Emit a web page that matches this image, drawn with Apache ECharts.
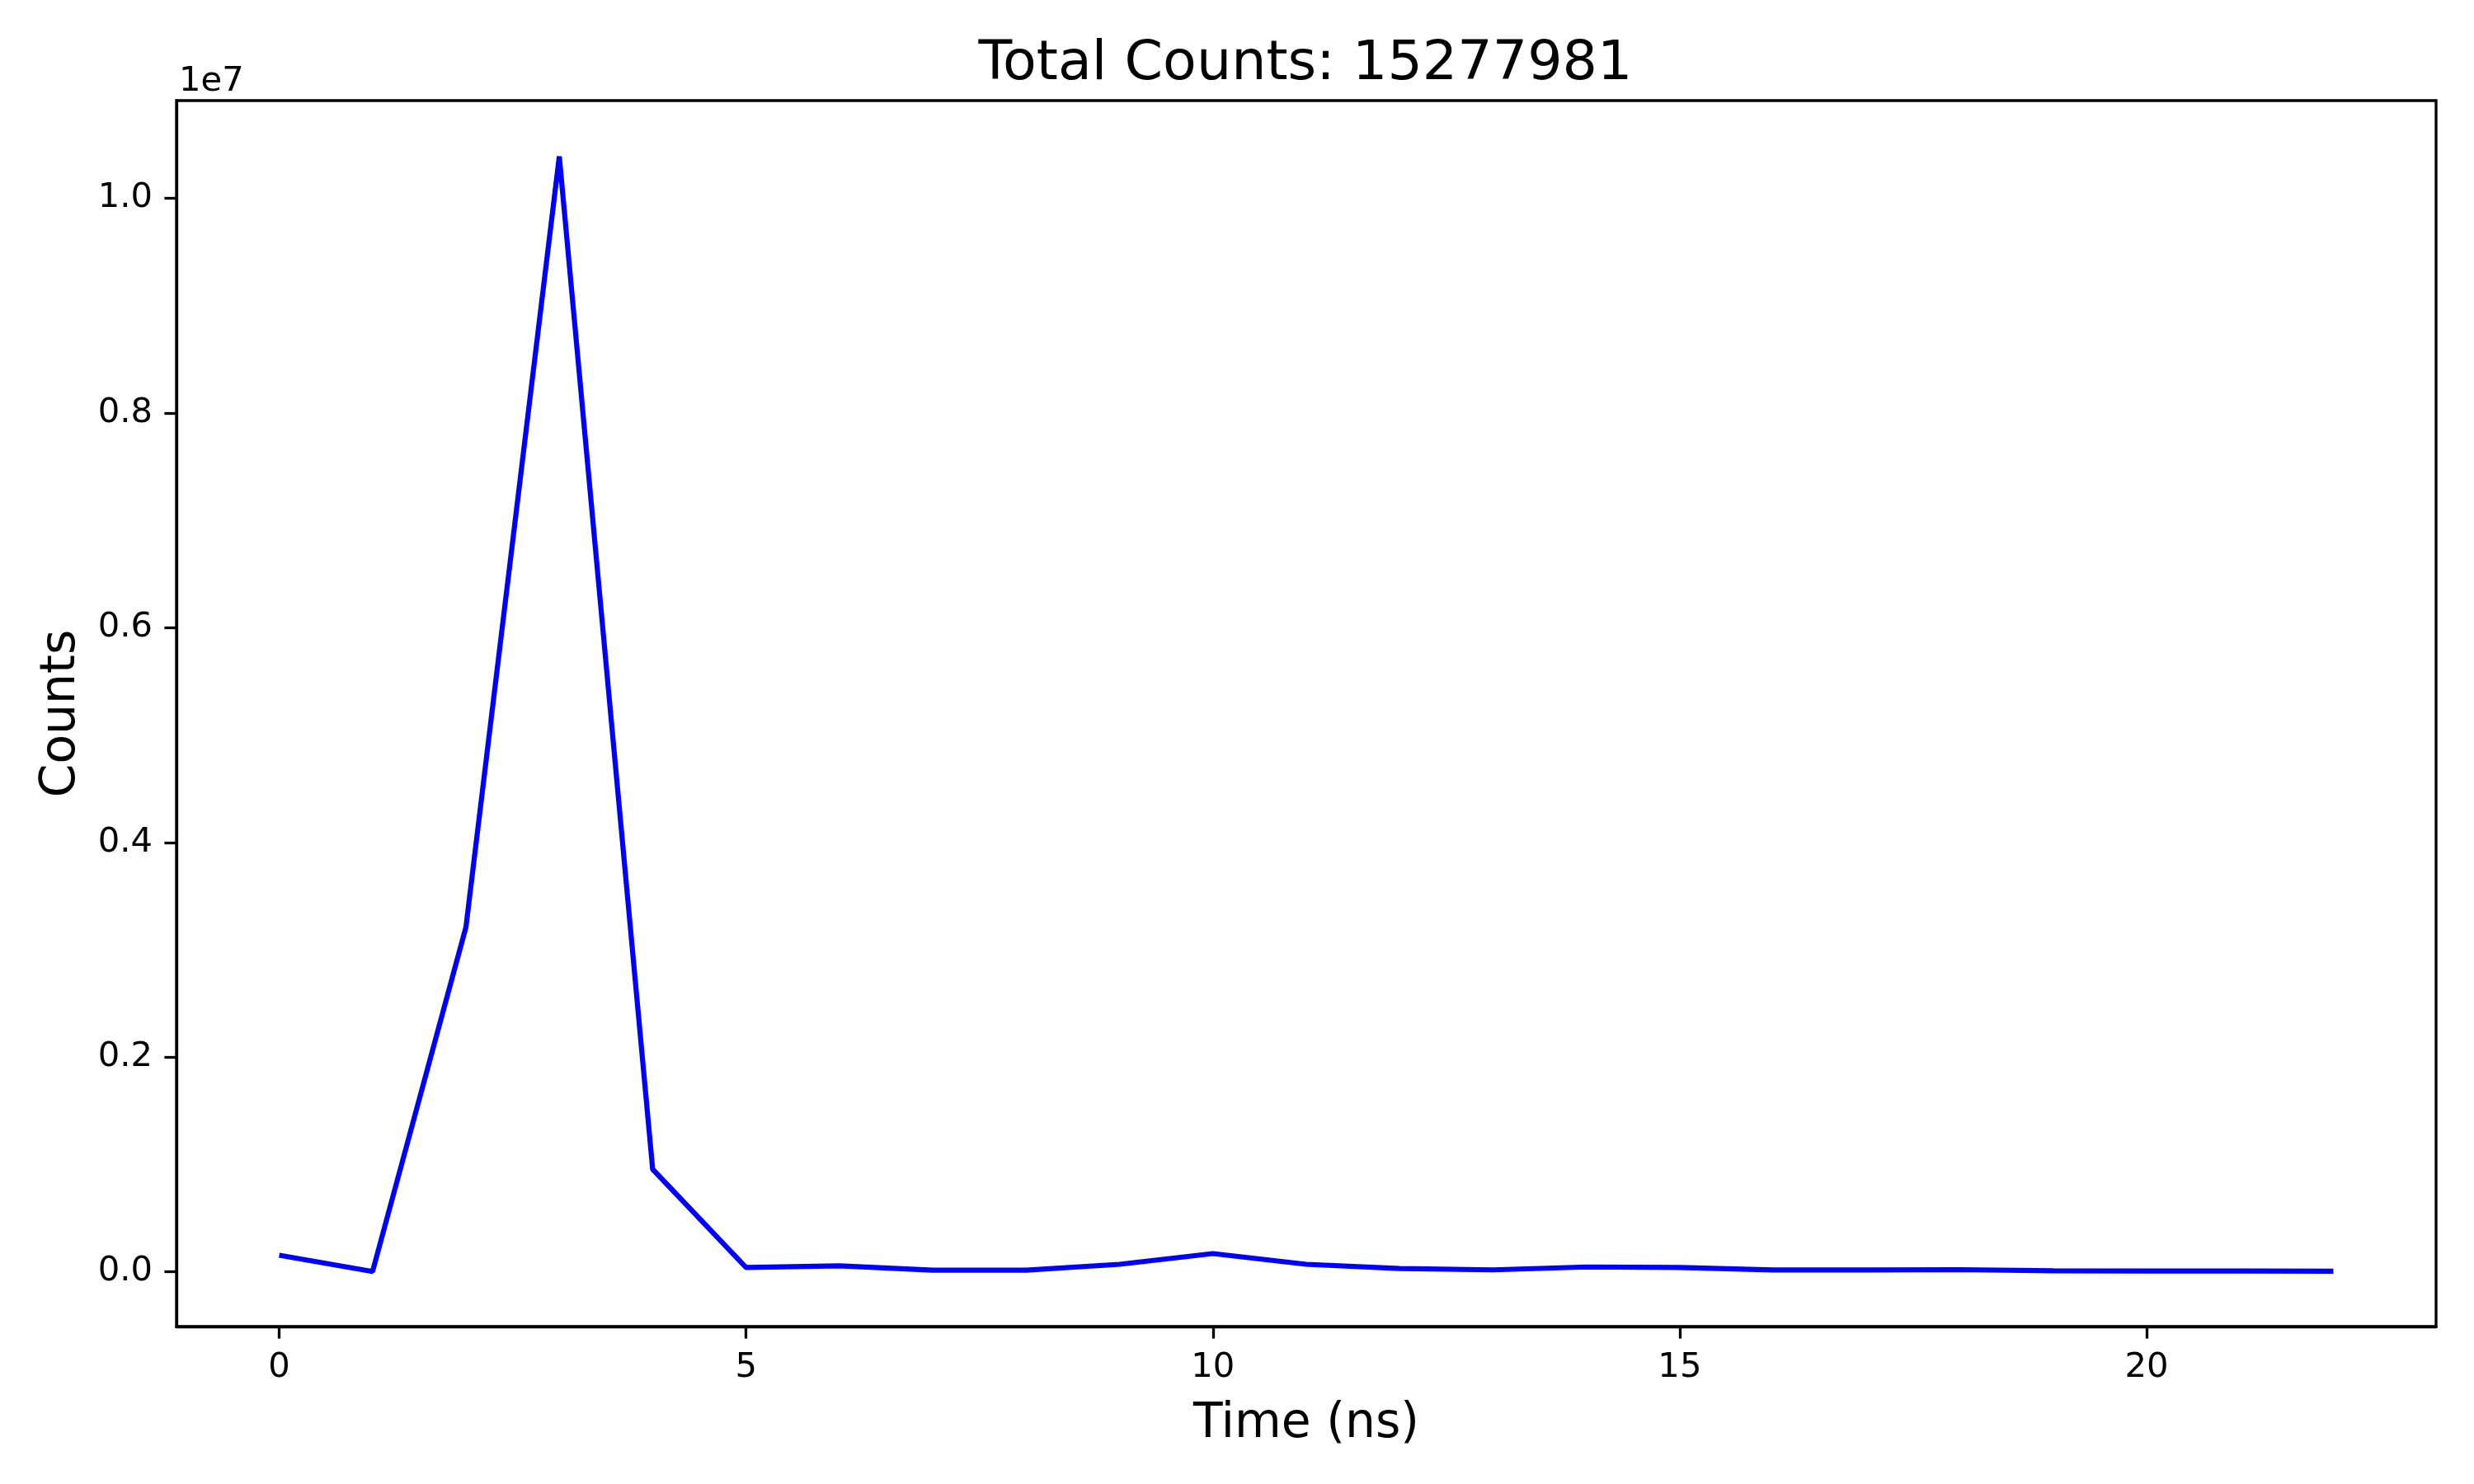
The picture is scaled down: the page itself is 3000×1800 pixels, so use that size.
<!DOCTYPE html>
<html>
<head>
<meta charset="utf-8">
<script src="https://cdn.jsdelivr.net/npm/echarts@6/dist/echarts.min.js"></script>
<style>
  html, body { margin: 0; padding: 0; background: #fff; }
  #chart { width: 3000px; height: 1800px; }
</style>
</head>
<body>
<div id="chart"></div>
<script>
  // ---- data ----
  var times = [0, 1, 2, 3, 4, 5, 6, 7, 8, 9, 10, 11, 12, 13, 14, 15, 16, 17, 18, 19, 20, 21, 22]
  var counts = [154000, 3000, 3210000, 10390000, 955000, 40000, 55000, 15000, 15000, 70000, 170000,
                70000, 30000, 18000, 45000, 40000, 17000, 17000, 20000, 10000, 7000, 7000, 6000]
  var xTicks = [0, 5, 10, 15, 20]
  var yTicks = [0, 2000000, 4000000, 6000000, 8000000, 10000000]
  var totalCounts = 15277981

  var font = 'DejaVu Sans'
  var chart = echarts.init(document.getElementById('chart'))

  chart.setOption({
    backgroundColor: '#fff',
    animation: false,
    title: [
      {
        text: 'Total Counts: ' + totalCounts,
        left: 1578,
        top: 40,
        textAlign: 'center',
        textStyle: { fontFamily: font, fontSize: 66.7, fontWeight: 'normal', color: '#000' }
      },
      {
        text: '1e7',          // 指数偏移文字
        left: 212,
        top: 73,
        textStyle: { fontFamily: font, fontSize: 41.7, fontWeight: 'normal', color: '#000' }
      }
    ],
    grid: {
      left: 214,
      top: 122,
      width: 2740,
      height: 1487,
      show: true,
      borderColor: '#000',
      borderWidth: 3.3,
      containLabel: false
    },
    xAxis: {
      type: 'value',
      min: -1.1,
      max: 23.1,
      name: 'Time (ns)',
      nameLocation: 'middle',
      nameGap: 90,
      nameTextStyle: { fontFamily: font, fontSize: 58.3, color: '#000' },
      axisLine: { show: true, onZero: false, lineStyle: { color: '#000', width: 3.3 } },
      axisTick: { show: true, length: 14.6, customValues: xTicks, lineStyle: { color: '#000', width: 3.3 } },
      axisLabel: { show: true, margin: 29, customValues: xTicks, fontFamily: font, fontSize: 41.7, color: '#000' },
      splitLine: { show: false }
    },
    yAxis: {
      type: 'value',
      min: -510000,
      max: 10910000,
      name: 'Counts',
      nameLocation: 'middle',
      nameGap: 110,
      nameTextStyle: { fontFamily: font, fontSize: 58.3, color: '#000' },
      axisLine: { show: true, onZero: false, lineStyle: { color: '#000', width: 3.3 } },
      axisTick: { show: true, length: 14.6, customValues: yTicks, lineStyle: { color: '#000', width: 3.3 } },
      axisLabel: {
        show: true,
        margin: 29,
        customValues: yTicks,
        fontFamily: font,
        fontSize: 41.7,
        color: '#000',
        formatter: function (v) { return (v / 1e7).toFixed(1) }
      },
      splitLine: { show: false }
    },
    series: [
      {
        type: 'line',
        data: times.map(function (t, i) { return [t, counts[i]] }),
        showSymbol: false,
        lineStyle: { color: '#0000ff', width: 6.2 },
        itemStyle: { color: '#0000ff' }
      }
    ]
  })
</script>
</body>
</html>
